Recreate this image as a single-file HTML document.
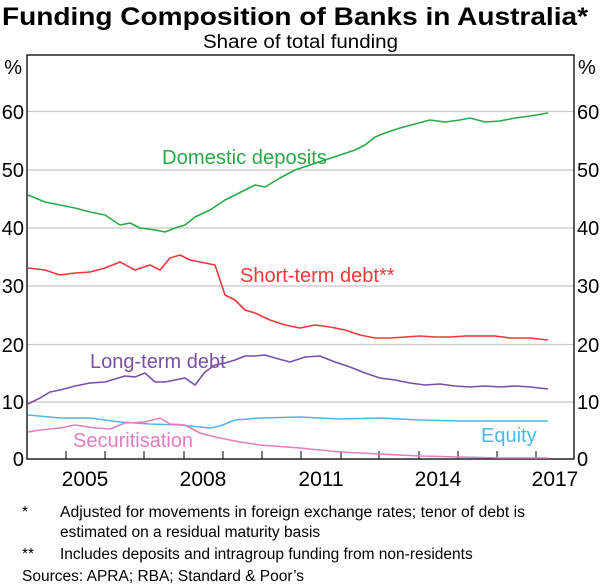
<!DOCTYPE html><html><head><style>body{margin:0;background:#fff}svg{display:block}text{font-family:"Liberation Sans",Arial,sans-serif}</style></head><body>
<svg width="600" height="588" viewBox="0 0 600 588">
<text x="2" y="25" font-size="25" font-weight="bold" textLength="586" lengthAdjust="spacingAndGlyphs">Funding Composition of Banks in Australia*</text>
<text x="203" y="48" font-size="19" textLength="195" lengthAdjust="spacingAndGlyphs">Share of total funding</text>
<g stroke="#c8c8c8" stroke-width="1.2">
<line x1="27" x2="574" y1="111.5" y2="111.5"/><line x1="27" x2="574" y1="170" y2="170"/><line x1="27" x2="574" y1="228" y2="228"/><line x1="27" x2="574" y1="286" y2="286"/><line x1="27" x2="574" y1="344.5" y2="344.5"/><line x1="27" x2="574" y1="402" y2="402"/>
</g>
<rect x="27" y="55" width="547" height="404" fill="none" stroke="#000" stroke-width="1.3"/>
<g stroke="#000" stroke-width="1">
<line x1="66" x2="66" y1="459" y2="451"/><line x1="105" x2="105" y1="459" y2="451"/><line x1="144" x2="144" y1="459" y2="451"/><line x1="184" x2="184" y1="459" y2="451"/><line x1="223" x2="223" y1="459" y2="451"/><line x1="262" x2="262" y1="459" y2="451"/><line x1="301" x2="301" y1="459" y2="451"/><line x1="341" x2="341" y1="459" y2="451"/><line x1="379" x2="379" y1="459" y2="451"/><line x1="419" x2="419" y1="459" y2="451"/><line x1="458" x2="458" y1="459" y2="451"/><line x1="497" x2="497" y1="459" y2="451"/><line x1="536" x2="536" y1="459" y2="451"/>
</g>
<g font-size="20" text-anchor="end">
<text x="22" y="74">%</text><text x="24" y="119">60</text><text x="24" y="177">50</text><text x="24" y="235">40</text><text x="24" y="293">30</text><text x="24" y="352">20</text><text x="24" y="409">10</text><text x="24" y="466">0</text>
</g>
<g font-size="20" text-anchor="start">
<text x="578" y="74">%</text><text x="577" y="119">60</text><text x="577" y="177">50</text><text x="577" y="235">40</text><text x="577" y="293">30</text><text x="577" y="352">20</text><text x="577" y="409">10</text><text x="577" y="466">0</text>
</g>
<g font-size="21" text-anchor="middle">
<text x="85" y="486">2005</text><text x="203" y="486">2008</text><text x="321" y="486">2011</text><text x="438" y="486">2014</text><text x="555" y="486">2017</text>
</g>
<g fill="none" stroke-width="1.6" stroke-linejoin="round">
<polyline stroke="#2aa84a" points="28,195 45,202 60,205 75,208 90,212 105,215 120,225 130,223 140,228 155,230 165,232 175,228 185,225 195,217 210,210 225,200 235,195 245,190 255,185 265,187 280,178 295,170 310,165 325,160 340,155 355,150 365,145 375,137 385,133 400,128 415,124 430,120 445,122 460,120 470,118 485,122 500,121 515,118 530,116 548,113"/>
<polyline stroke="#f0383c" points="28,268 45,270 60,275 75,273 90,272 105,268 120,262 135,270 150,265 160,270 170,258 180,255 190,260 200,262 215,265 225,295 235,300 245,310 255,313 270,320 285,325 300,328 315,325 330,327 345,330 360,335 375,338 390,338 405,337 420,336 435,337 450,337 465,336 480,336 495,336 510,338 530,338 548,340"/>
<polyline stroke="#7a4fa8" points="28,404 40,398 50,392 60,390 75,386 90,383 105,382 115,379 125,376 135,377 145,373 155,382 165,382 175,380 185,378 195,385 205,372 215,365 225,363 235,360 245,356 255,356 265,355 275,358 290,362 305,357 320,356 335,362 350,367 365,373 380,378 395,380 410,383 425,385 440,384 455,386 470,387 485,386 500,387 515,386 530,387 548,389"/>
<polyline stroke="#4db8e8" points="28,415 60,418 90,418 120,422 150,424 180,425 210,428 220,426 235,420 260,418 300,417 340,419 380,418 420,420 460,421 500,421 548,421"/>
<polyline stroke="#e07fbf" points="28,432 40,430 60,428 75,425 95,428 110,429 125,423 145,422 160,418 170,424 185,425 200,433 215,437 240,442 260,445 300,448 340,452 380,454 420,456 460,457 500,458 548,458"/>
</g>
<text x="162" y="164" font-size="20" fill="#2aa84a" textLength="165" lengthAdjust="spacingAndGlyphs">Domestic deposits</text>
<text x="240" y="282" font-size="20" fill="#f0383c">Short-term debt**</text>
<text x="90" y="368" font-size="20" fill="#7a4fa8">Long-term debt</text>
<text x="481" y="442" font-size="20" fill="#4db8e8">Equity</text>
<text x="73" y="447" font-size="20" fill="#e07fbf">Securitisation</text>
<g font-size="15.5">
<text x="22" y="517">*</text><text x="60" y="517" textLength="465" lengthAdjust="spacingAndGlyphs">Adjusted for movements in foreign exchange rates; tenor of debt is</text>
<text x="60" y="537">estimated on a residual maturity basis</text>
<text x="22" y="559">**</text><text x="60" y="559">Includes deposits and intragroup funding from non-residents</text>
<text x="22" y="581">Sources: APRA; RBA; Standard &amp; Poor’s</text>
</g>
</svg></body></html>
